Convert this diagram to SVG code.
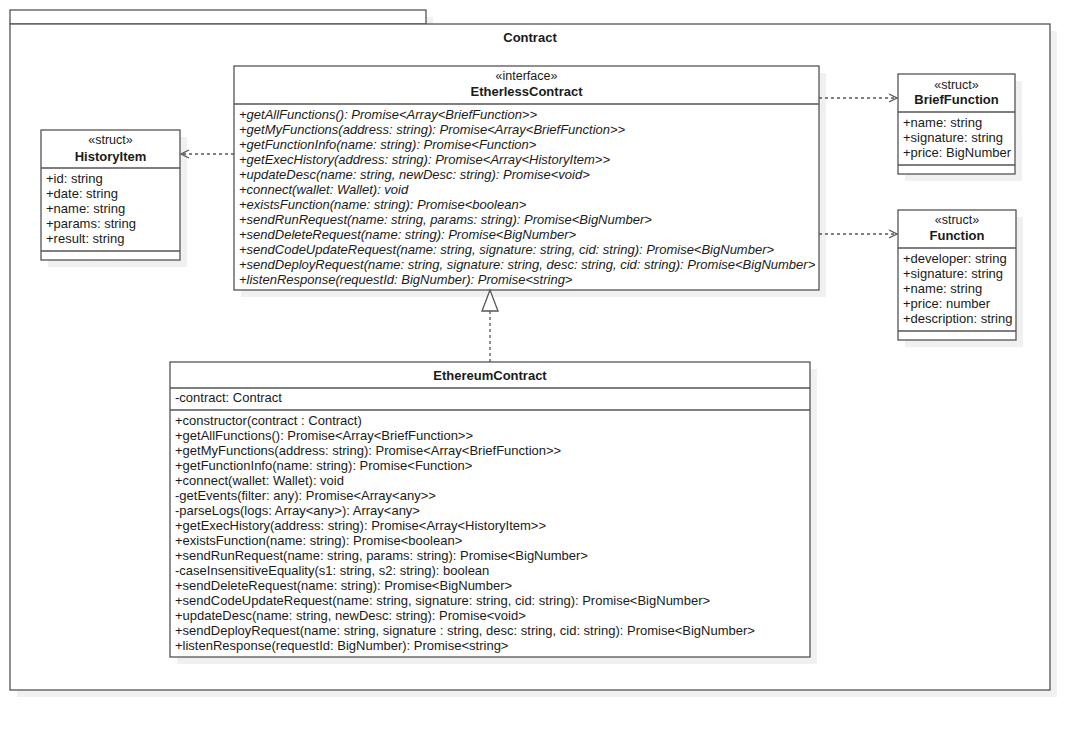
<svg xmlns="http://www.w3.org/2000/svg" width="1090" height="730" viewBox="0 0 1090 730">
<defs>
<style>
.sh{fill:#f0f0f0;stroke:none}
.bx{fill:#ffffff;stroke:#555555;stroke-width:1.3}
.ln{stroke:#555555;stroke-width:1.3;fill:none}
.t{font-family:"Liberation Sans",Arial,sans-serif;font-size:13px;fill:#1a1a1a}
.i{font-style:italic}
.b{font-weight:bold}
.st{font-family:"Liberation Sans",Arial,sans-serif;font-size:12.5px;fill:#1a1a1a}
.c{text-anchor:middle}
.dash{stroke:#555555;stroke-width:1.3;fill:none;stroke-dasharray:3 3}
.arr{stroke:#555555;stroke-width:1.3;fill:none}
</style>
</defs>
<rect width="1090" height="730" fill="#ffffff"/>

<g id="package">
<rect class="sh" x="17" y="17" width="416" height="14"/>
<rect class="sh" x="17" y="31" width="1040" height="666"/>
<rect class="bx" x="10" y="10" width="416" height="14"/>
<rect class="bx" x="10" y="24" width="1040" height="666"/>
<text class="t b c" x="530" y="42">Contract</text>
</g>

<g id="EtherlessContract">
<rect class="sh" x="241" y="73" width="585" height="224"/>
<rect class="bx" x="234" y="66" width="585" height="224"/>
<line class="ln" x1="234" y1="104" x2="819" y2="104"/>
<text class="st c" x="526.5" y="80">«interface»</text>
<text class="t b c" x="526.5" y="96">EtherlessContract</text>
<text class="t i" x="239">
<tspan x="239" y="118.5">+getAllFunctions(): Promise&lt;Array&lt;BriefFunction&gt;&gt;</tspan>
<tspan x="239" y="133.5">+getMyFunctions(address: string): Promise&lt;Array&lt;BriefFunction&gt;&gt;</tspan>
<tspan x="239" y="148.5">+getFunctionInfo(name: string): Promise&lt;Function&gt;</tspan>
<tspan x="239" y="163.5">+getExecHistory(address: string): Promise&lt;Array&lt;HistoryItem&gt;&gt;</tspan>
<tspan x="239" y="178.5">+updateDesc(name: string, newDesc: string): Promise&lt;void&gt;</tspan>
<tspan x="239" y="193.5">+connect(wallet: Wallet): void</tspan>
<tspan x="239" y="208.5">+existsFunction(name: string): Promise&lt;boolean&gt;</tspan>
<tspan x="239" y="223.5">+sendRunRequest(name: string, params: string): Promise&lt;BigNumber&gt;</tspan>
<tspan x="239" y="238.5">+sendDeleteRequest(name: string): Promise&lt;BigNumber&gt;</tspan>
<tspan x="239" y="253.5">+sendCodeUpdateRequest(name: string, signature: string, cid: string): Promise&lt;BigNumber&gt;</tspan>
<tspan x="239" y="268.5">+sendDeployRequest(name: string, signature: string, desc: string, cid: string): Promise&lt;BigNumber&gt;</tspan>
<tspan x="239" y="283.5">+listenResponse(requestId: BigNumber): Promise&lt;string&gt;</tspan>
</text>
</g>

<g id="HistoryItem">
<rect class="sh" x="48" y="137" width="139" height="130"/>
<rect class="bx" x="41" y="130" width="139" height="130"/>
<line class="ln" x1="41" y1="168" x2="180" y2="168"/>
<line class="ln" x1="41" y1="251" x2="180" y2="251"/>
<text class="st c" x="110.5" y="144">«struct»</text>
<text class="t b c" x="110.5" y="160.5">HistoryItem</text>
<text class="t">
<tspan x="46" y="182.5">+id: string</tspan>
<tspan x="46" y="197.5">+date: string</tspan>
<tspan x="46" y="212.5">+name: string</tspan>
<tspan x="46" y="227.5">+params: string</tspan>
<tspan x="46" y="242.5">+result: string</tspan>
</text>
</g>

<g id="BriefFunction">
<rect class="sh" x="905" y="81" width="117" height="100"/>
<rect class="bx" x="898" y="74" width="117" height="100"/>
<line class="ln" x1="898" y1="112" x2="1015" y2="112"/>
<line class="ln" x1="898" y1="165" x2="1015" y2="165"/>
<text class="st c" x="956.5" y="89">«struct»</text>
<text class="t b c" x="956.5" y="104">BriefFunction</text>
<text class="t">
<tspan x="903" y="126.5">+name: string</tspan>
<tspan x="903" y="141.5">+signature: string</tspan>
<tspan x="903" y="156.5">+price: BigNumber</tspan>
</text>
</g>

<g id="Function">
<rect class="sh" x="905" y="217" width="118" height="130"/>
<rect class="bx" x="898" y="210" width="118" height="130"/>
<line class="ln" x1="898" y1="248" x2="1016" y2="248"/>
<line class="ln" x1="898" y1="331" x2="1016" y2="331"/>
<text class="st c" x="957" y="224">«struct»</text>
<text class="t b c" x="957" y="240">Function</text>
<text class="t">
<tspan x="903" y="262.5">+developer: string</tspan>
<tspan x="903" y="277.5">+signature: string</tspan>
<tspan x="903" y="292.5">+name: string</tspan>
<tspan x="903" y="307.5">+price: number</tspan>
<tspan x="903" y="322.5">+description: string</tspan>
</text>
</g>

<g id="EthereumContract">
<rect class="sh" x="177" y="369" width="640" height="295"/>
<rect class="bx" x="170" y="362" width="640" height="295"/>
<line class="ln" x1="170" y1="388" x2="810" y2="388"/>
<line class="ln" x1="170" y1="410" x2="810" y2="410"/>
<text class="t b c" x="490" y="379.5">EthereumContract</text>
<text class="t" x="175" y="401.5">-contract: Contract</text>
<text class="t">
<tspan x="175" y="424.5">+constructor(contract : Contract)</tspan>
<tspan x="175" y="439.5">+getAllFunctions(): Promise&lt;Array&lt;BriefFunction&gt;&gt;</tspan>
<tspan x="175" y="454.5">+getMyFunctions(address: string): Promise&lt;Array&lt;BriefFunction&gt;&gt;</tspan>
<tspan x="175" y="469.5">+getFunctionInfo(name: string): Promise&lt;Function&gt;</tspan>
<tspan x="175" y="484.5">+connect(wallet: Wallet): void</tspan>
<tspan x="175" y="499.5">-getEvents(filter: any): Promise&lt;Array&lt;any&gt;&gt;</tspan>
<tspan x="175" y="514.5">-parseLogs(logs: Array&lt;any&gt;): Array&lt;any&gt;</tspan>
<tspan x="175" y="529.5">+getExecHistory(address: string): Promise&lt;Array&lt;HistoryItem&gt;&gt;</tspan>
<tspan x="175" y="544.5">+existsFunction(name: string): Promise&lt;boolean&gt;</tspan>
<tspan x="175" y="559.5">+sendRunRequest(name: string, params: string): Promise&lt;BigNumber&gt;</tspan>
<tspan x="175" y="574.5">-caseInsensitiveEquality(s1: string, s2: string): boolean</tspan>
<tspan x="175" y="589.5">+sendDeleteRequest(name: string): Promise&lt;BigNumber&gt;</tspan>
<tspan x="175" y="604.5">+sendCodeUpdateRequest(name: string, signature: string, cid: string): Promise&lt;BigNumber&gt;</tspan>
<tspan x="175" y="619.5">+updateDesc(name: string, newDesc: string): Promise&lt;void&gt;</tspan>
<tspan x="175" y="634.5">+sendDeployRequest(name: string, signature : string, desc: string, cid: string): Promise&lt;BigNumber&gt;</tspan>
<tspan x="175" y="649.5">+listenResponse(requestId: BigNumber): Promise&lt;string&gt;</tspan>
</text>
</g>

<g id="connectors">
<line class="dash" x1="234" y1="154" x2="181" y2="154"/>
<polyline class="arr" points="189,150 181,154 189,158"/>
<line class="dash" x1="819" y1="98" x2="897" y2="98"/>
<polyline class="arr" points="889,94 897,98 889,102"/>
<line class="dash" x1="819" y1="234" x2="897" y2="234"/>
<polyline class="arr" points="889,230 897,234 889,238"/>
<line class="dash" x1="490" y1="362" x2="490" y2="311"/>
<polygon points="490,290 482,311 498,311" fill="#ffffff" stroke="#555555" stroke-width="1.3"/>
</g>
</svg>
